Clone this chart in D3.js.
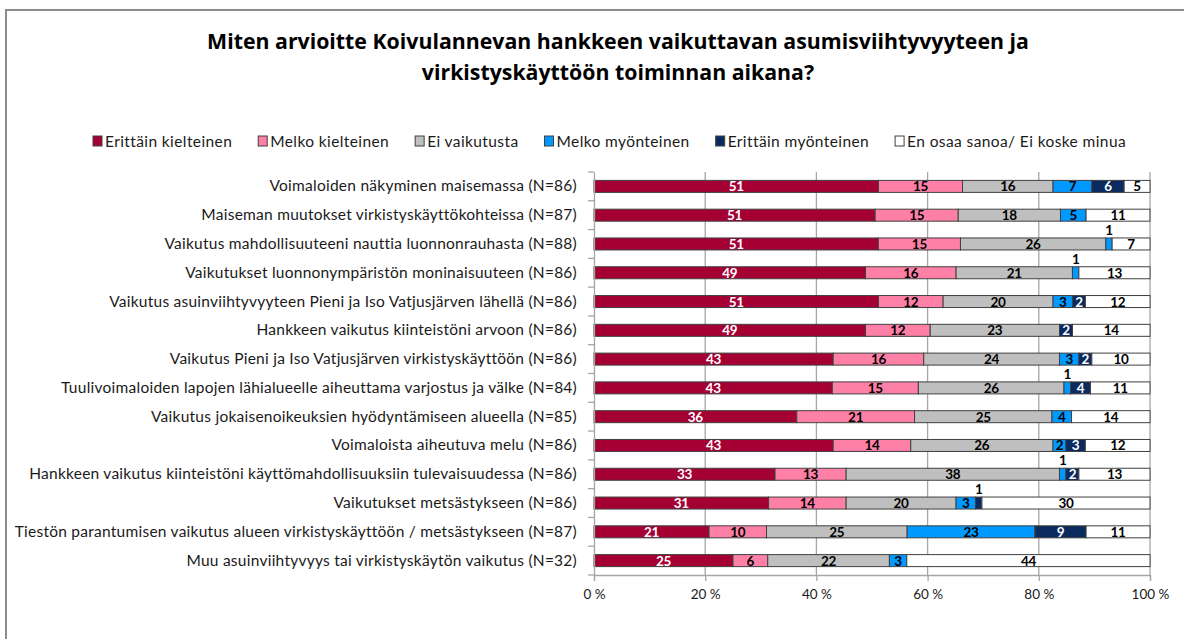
<!DOCTYPE html>
<html>
<head>
<meta charset="utf-8">
<script src="https://cdn.jsdelivr.net/npm/d3@7"></script>
<style>
  body { margin: 0; background: #fff; }
  svg { display: block; }
</style>
</head>
<body>
<svg id="chart" width="1184" height="639"></svg>
<script>
// categories, top to bottom
var categories = [
  "Voimaloiden näkyminen maisemassa (N=86)",
  "Maiseman muutokset virkistyskäyttökohteissa (N=87)",
  "Vaikutus mahdollisuuteeni nauttia luonnonrauhasta (N=88)",
  "Vaikutukset luonnonympäristön moninaisuuteen (N=86)",
  "Vaikutus asuinviihtyvyyteen Pieni ja Iso Vatjusjärven lähellä (N=86)",
  "Hankkeen vaikutus kiinteistöni arvoon (N=86)",
  "Vaikutus Pieni ja Iso Vatjusjärven virkistyskäyttöön (N=86)",
  "Tuulivoimaloiden lapojen lähialueelle aiheuttama varjostus ja välke (N=84)",
  "Vaikutus jokaisenoikeuksien hyödyntämiseen alueella (N=85)",
  "Voimaloista aiheutuva melu (N=86)",
  "Hankkeen vaikutus kiinteistöni käyttömahdollisuuksiin tulevaisuudessa (N=86)",
  "Vaikutukset metsästykseen (N=86)",
  "Tiestön parantumisen vaikutus alueen virkistyskäyttöön / metsästykseen (N=87)",
  "Muu asuinviihtyvyys tai virkistyskäytön vaikutus (N=32)"
];

var seriesNames = ["Erittäin kielteinen", "Melko kielteinen", "Ei vaikutusta",
  "Melko myönteinen", "Erittäin myönteinen", "En osaa sanoa/ Ei koske minua"];

// percentages per series
var erittainKielteinen = [51.16, 50.57, 51.14, 48.84, 51.16, 48.84, 43.02, 42.86, 36.47, 43.02, 32.56, 31.40, 20.69, 25.0];
var melkoKielteinen    = [15.12, 14.94, 14.77, 16.28, 11.63, 11.63, 16.28, 15.48, 21.18, 13.95, 12.79, 13.95, 10.34, 6.25];
var eiVaikutusta       = [16.28, 18.39, 26.14, 20.93, 19.77, 23.26, 24.42, 26.19, 24.71, 25.58, 38.37, 19.77, 25.29, 21.88];
var melkoMyonteinen    = [6.98, 4.60, 1.14, 1.16, 3.49, 0, 3.49, 1.19, 3.53, 2.33, 1.16, 3.49, 22.99, 3.13];
var erittainMyonteinen = [5.81, 0, 0, 0, 2.33, 2.33, 2.33, 3.57, 0, 3.49, 2.33, 1.16, 9.20, 0];
var enOsaaSanoa        = [4.65, 11.49, 6.82, 12.79, 11.63, 13.95, 10.47, 10.71, 14.12, 11.63, 12.79, 30.23, 11.49, 43.75];

var xTicks = [0, 20, 40, 60, 80, 100];

var colors = ["#A50034", "#FF80A6", "#BFBFBF", "#0099FF", "#0B2A60", "#FFFFFF"];
var labelColors = ["#fff", "#000", "#000", "#000", "#fff", "#000"];

var allSeries = [erittainKielteinen, melkoKielteinen, eiVaikutusta, melkoMyonteinen, erittainMyonteinen, enOsaaSanoa];

var svg = d3.select("#chart");
var font = "Lato, 'Liberation Sans', sans-serif";

// frame
svg.append("rect")
  .attr("x", 6).attr("y", 10)
  .attr("width", 1200).attr("height", 700)
  .attr("fill", "none")
  .attr("stroke", "#8c8c8c")
  .attr("stroke-width", 2);

// title
var title = svg.append("text")
  .attr("text-anchor", "middle")
  .attr("font-family", "'Open Sans', sans-serif")
  .attr("font-weight", "bold")
  .attr("font-size", 21.3)
  .attr("fill", "#000");
title.append("tspan").attr("x", 618).attr("y", 49)
  .text("Miten arvioitte Koivulannevan hankkeen vaikuttavan asumisviihtyvyyteen ja");
title.append("tspan").attr("x", 618).attr("y", 80)
  .text("virkistyskäyttöön toiminnan aikana?");

var margin = {top: 172, left: 594, right: 34, bottom: 64};
var width = 1184 - margin.left - margin.right;
var height = 639 - margin.top - margin.bottom;

var g = svg.append("g").attr("transform", "translate(" + margin.left + "," + margin.top + ")");

var x = d3.scaleLinear().domain([0, 100]).range([0, width]);
var y = d3.scaleBand().domain(categories).range([0, height]).padding(0);
var barH = 12;

// stacked data
var table = categories.map(function(c, i) {
  var row = {category: c};
  seriesNames.forEach(function(s, k) { row[s] = allSeries[k][i]; });
  return row;
});
var stack = d3.stack().keys(seriesNames)(table);

// gridlines
g.append("g")
  .selectAll("line")
  .data(xTicks.slice(1))
  .enter().append("line")
  .attr("x1", function(d) { return x(d); })
  .attr("x2", function(d) { return x(d); })
  .attr("y1", 0).attr("y2", height)
  .attr("stroke", "#a6a6a6")
  .attr("stroke-width", 1.3);

// bars
var layers = g.append("g")
  .selectAll("g")
  .data(stack)
  .enter().append("g")
  .attr("fill", function(d, k) { return colors[k]; });

layers.selectAll("rect")
  .data(function(d) { return d.filter(function(p) { return p[1] - p[0] > 0; }); })
  .enter().append("rect")
  .attr("x", function(d) { return x(d[0]); })
  .attr("y", function(d) { return y(d.data.category) + y.bandwidth() / 2 - barH / 2; })
  .attr("width", function(d) { return x(d[1]) - x(d[0]); })
  .attr("height", barH)
  .attr("stroke", "#404040")
  .attr("stroke-width", 1);

// value labels
layers.each(function(layer, k) {
  d3.select(this).selectAll("text")
    .data(layer.filter(function(p) { return p[1] - p[0] > 0; }))
    .enter().append("text")
    .attr("x", function(d) { return x((d[0] + d[1]) / 2); })
    .attr("y", function(d) {
      var cy = y(d.data.category) + y.bandwidth() / 2;
      return (d[1] - d[0]) < 1.5 ? cy - 9 : cy + 5;
    })
    .attr("text-anchor", "middle")
    .attr("font-family", font)
    .attr("font-weight", "bold")
    .attr("font-size", 13.5)
    .attr("letter-spacing", -0.3)
    .attr("fill", function(d) { return (d[1] - d[0]) < 1.5 ? "#000" : labelColors[k]; })
    .text(function(d) { return Math.round(d[1] - d[0]); });
});

// y axis
var yAxis = g.append("g")
  .call(d3.axisLeft(y).tickSize(0).tickPadding(17));
yAxis.select(".domain").attr("stroke", "#a6a6a6").attr("stroke-width", 1.3);
yAxis.selectAll("text")
  .attr("font-family", font)
  .attr("font-size", 15.5)
  .attr("letter-spacing", 0.25)
  .attr("fill", "#1a1a1a");
// ticks between categories
g.append("g")
  .selectAll("line")
  .data(d3.range(categories.length + 1))
  .enter().append("line")
  .attr("x1", -6).attr("x2", 0)
  .attr("y1", function(i) { return i * y.step(); })
  .attr("y2", function(i) { return i * y.step(); })
  .attr("stroke", "#a6a6a6")
  .attr("stroke-width", 1.3);

// x axis
var xAxis = g.append("g")
  .attr("transform", "translate(0," + height + ")")
  .call(d3.axisBottom(x).tickValues(xTicks).tickSize(6).tickPadding(8)
    .tickFormat(function(d) { return d + " %"; }));
xAxis.select(".domain").attr("stroke", "#a6a6a6").attr("stroke-width", 1.3);
xAxis.selectAll("line").attr("stroke", "#a6a6a6").attr("stroke-width", 1.3);
xAxis.selectAll("text")
  .attr("font-family", font)
  .attr("font-size", 13.5)
  .attr("fill", "#1a1a1a");

// legend
var legend = svg.append("g").attr("transform", "translate(93,141)");
var lx = 0;
seriesNames.forEach(function(s, k) {
  var item = legend.append("g").attr("transform", "translate(" + lx + ",0)");
  item.append("rect")
    .attr("x", 0).attr("y", -5)
    .attr("width", 9).attr("height", 10)
    .attr("fill", colors[k])
    .attr("stroke", "#404040")
    .attr("stroke-width", 1);
  var t = item.append("text")
    .attr("x", 12).attr("y", 5.5)
    .attr("font-family", font)
    .attr("font-size", 15.5)
    .attr("letter-spacing", 0.4)
    .attr("fill", "#1a1a1a")
    .text(s);
  lx += 12 + t.node().getComputedTextLength() + 26;
});
</script>
</body>
</html>
